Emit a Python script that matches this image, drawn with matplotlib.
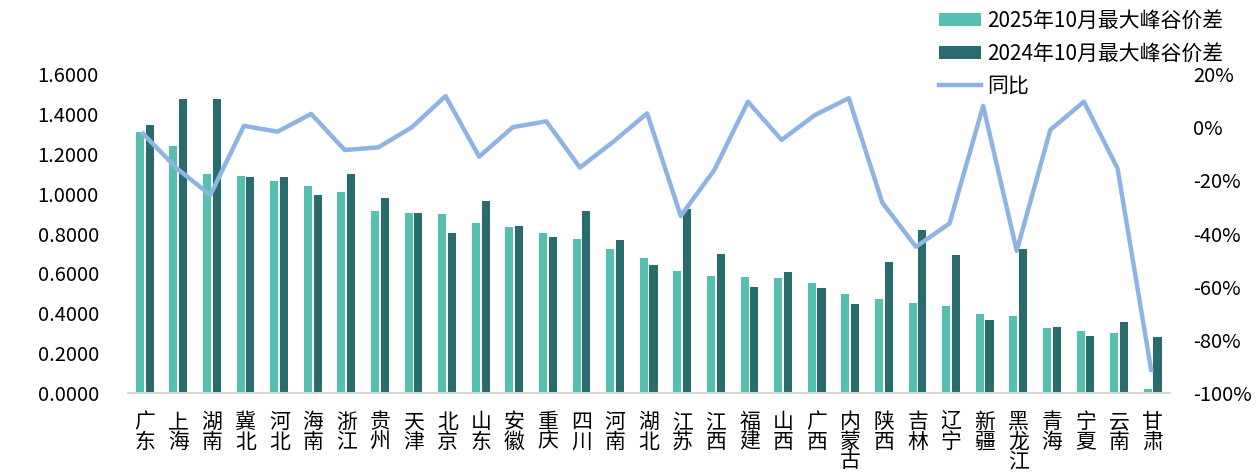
import matplotlib
matplotlib.use("Agg")
import matplotlib.pyplot as plt
import numpy as np
from matplotlib.ticker import FixedLocator, FuncFormatter

plt.rcParams['font.family'] = ['Noto Sans CJK SC', 'DejaVu Sans']

provinces = ["广东", "上海", "湖南", "冀北", "河北", "海南", "浙江", "贵州", "天津", "北京",
             "山东", "安徽", "重庆", "四川", "河南", "湖北", "江苏", "江西", "福建", "山西",
             "广西", "内蒙古", "陕西", "吉林", "辽宁", "新疆", "黑龙江", "青海", "宁夏", "云南", "甘肃"]

diff_2025 = [1.310, 1.239, 1.098, 1.088, 1.063, 1.038, 1.008, 0.913, 0.903, 0.898,
             0.853, 0.833, 0.802, 0.772, 0.722, 0.677, 0.612, 0.587, 0.582, 0.577,
             0.552, 0.496, 0.471, 0.451, 0.436, 0.396, 0.386, 0.326, 0.311, 0.301, 0.020]

diff_2024 = [1.344, 1.474, 1.474, 1.083, 1.083, 0.993, 1.098, 0.978, 0.903, 0.802,
             0.961, 0.838, 0.782, 0.913, 0.767, 0.642, 0.925, 0.697, 0.532, 0.607,
             0.527, 0.446, 0.657, 0.817, 0.692, 0.366, 0.722, 0.331, 0.286, 0.356, 0.281]

yoy = [-2.5, -15.5, -25.5, 0.5, -1.7, 5.0, -8.6, -7.6, 0.0, 11.7,
       -11.1, 0.0, 2.2, -15.2, -5.4, 5.2, -33.4, -16.1, 9.6, -4.8,
       4.6, 10.9, -28.4, -45.0, -36.2, 8.0, -46.5, -1.0, 9.6, -15.5, -91.3]

c_2025 = "#56C0B0"
c_2024 = "#2A6B6E"
c_line = "#8EB4E3"

fig = plt.figure(figsize=(12.59, 4.75), dpi=100)
ax = fig.add_axes([0.1017, 0.1726, 0.8273, 0.6716])
x = np.arange(len(provinces))
w = 0.24

ax.bar(x - 0.15, diff_2025, width=w, color=c_2025, label="2025年10月最大峰谷价差", zorder=2)
ax.bar(x + 0.14, diff_2024, width=w, color=c_2024, label="2024年10月最大峰谷价差", zorder=2)
ax.set_xlim(-0.5, len(provinces) - 0.5)
ax.set_ylim(0, 1.6)
ax.yaxis.set_major_locator(FixedLocator(np.arange(0, 1.61, 0.2)))
ax.yaxis.set_major_formatter(FuncFormatter(lambda v, p: "%.4f" % v))
ax.set_xticks(x)
ax.set_xticklabels(["\n".join(p) for p in provinces], fontsize=15, linespacing=0.85,
                   va="top")
ax.tick_params(axis="x", length=0, pad=13)
ax.tick_params(axis="y", length=0, labelsize=14.5, pad=21)
for s in ["top", "right", "left"]:
    ax.spines[s].set_visible(False)
ax.spines["bottom"].set_color("#D9D9D9")
ax.spines["bottom"].set_linewidth(1.5)

ax2 = ax.twinx()
ax2.plot(x - 0.05, np.array(yoy) / 100, color=c_line, lw=3.2, label="同比", zorder=3)
ax2.set_ylim(-1.0, 0.2)
ax2.yaxis.set_major_locator(FixedLocator(np.arange(-1.0, 0.21, 0.2)))
ax2.yaxis.set_major_formatter(FuncFormatter(lambda v, p: "%d%%" % round(v * 100)))
ax2.tick_params(axis="y", length=0, labelsize=14.5, pad=17)
for s in ["top", "right", "left", "bottom"]:
    ax2.spines[s].set_visible(False)

h1, l1 = ax.get_legend_handles_labels()
h2, l2 = ax2.get_legend_handles_labels()
leg = fig.legend(h1 + h2, l1 + l2, loc="upper left", bbox_to_anchor=(0.731, 1.018),
                 frameon=False, fontsize=15, handlelength=2.0, handleheight=0.6,
                 labelspacing=0.5, handletextpad=0.3)

fig.savefig("out.png", dpi=100)
